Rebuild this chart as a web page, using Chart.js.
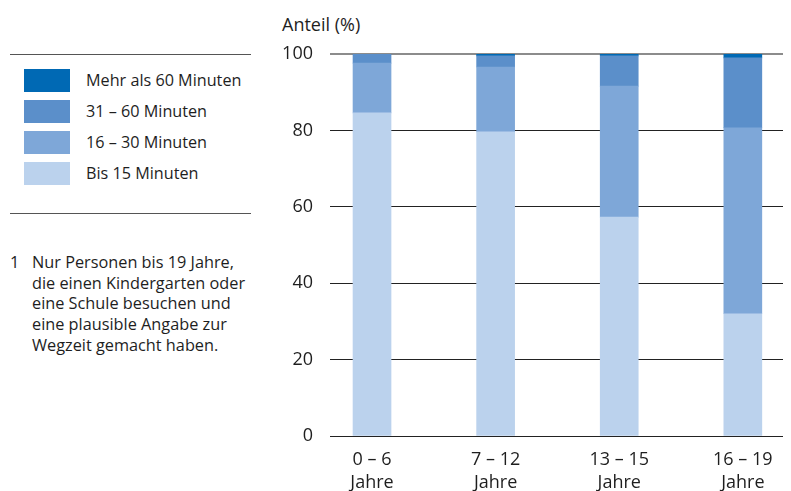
<!DOCTYPE html>
<html lang="de">
<head>
<meta charset="utf-8">
<title>Wegzeit zu Kindergarten / Schule</title>
<script src="https://cdn.jsdelivr.net/npm/chart.js@4"></script>
<style>
  html, body { margin: 0; padding: 0; background: #fff; }
  body { width: 791px; height: 491px; position: relative; overflow: hidden;
         font-family: "Open Sans", "Noto Sans", sans-serif; color: #1e1e1e; }
  .rule { position: absolute; left: 10px; width: 241px; height: 0; border-top: 1px solid #555; }
  #legend { position: absolute; left: 24px; top: 69px; margin: 0; padding: 0; list-style: none; }
  #legend li { position: relative; height: 31px; font-size: 16.2px; line-height: 23px; }
  #legend .sw { position: absolute; left: 0; top: 0; width: 46px; height: 23px; }
  #legend .lbl { position: absolute; left: 62px; top: 0; white-space: nowrap; }
  #note { position: absolute; left: 10px; top: 252px; font-size: 16.3px; line-height: 20.7px; }
  #note .num { position: absolute; left: 0; top: 0; }
  #note .txt { position: absolute; left: 22px; top: 0; white-space: nowrap; }
  #ytitle { position: absolute; left: 282px; top: 12px; font-size: 18px; white-space: nowrap; }
  #wrap { position: absolute; left: 260px; top: 0; width: 531px; height: 491px; }
</style>
</head>
<body>
<div class="rule" style="top:54px"></div>
<ul id="legend"></ul>
<div class="rule" style="top:213px"></div>
<div id="note">
  <span class="num">1</span>
  <span class="txt">Nur Personen bis 19 Jahre,<br>die einen Kindergarten oder<br>eine Schule besuchen und<br>eine plausible Angabe zur<br>Wegzeit gemacht haben.</span>
</div>
<div id="ytitle">Anteil (%)</div>
<div id="wrap"><canvas id="chart" width="531" height="491"></canvas></div>

<script>
/* ── Data ── */
const categories = [['0 – 6', 'Jahre'], ['7 – 12', 'Jahre'], ['13 – 15', 'Jahre'], ['16 – 19', 'Jahre']];
const seriesNames = ['Bis 15 Minuten', '16 – 30 Minuten', '31 – 60 Minuten', 'Mehr als 60 Minuten'];
const bis15    = [84.6, 79.6, 57.3, 32.0];
const min16_30 = [13.0, 17.0, 34.3, 48.7];
const min31_60 = [2.4, 2.9, 7.9, 18.3];
const over60   = [0.0, 0.5, 0.5, 1.0];
const yTicks = [0, 20, 40, 60, 80, 100];
const colors = ['#bbd2ed', '#7ea7d8', '#5b8fca', '#0069b4'];

const seriesValues = [bis15, min16_30, min31_60, over60];

/* ── Legend (top entry = top of stack) ── */
function buildLegend() {
  const ul = document.getElementById('legend');
  for (let i = seriesNames.length - 1; i >= 0; i--) {
    const li = document.createElement('li');
    li.innerHTML = '<span class="sw" style="background:' + colors[i] + '"></span><span class="lbl">' + seriesNames[i] + '</span>';
    ul.appendChild(li);
  }
}

/* ── Chart ── */
function initChart() {
  const ctx = document.getElementById('chart');
  const font = { family: '"Open Sans", "Noto Sans", sans-serif', size: 18 };

  new Chart(ctx, {
    type: 'bar',
    data: {
      datasets: seriesValues.map((vals, i) => ({
        label: seriesNames[i],
        data: vals.map((v, j) => ({ x: j, y: v })),
        backgroundColor: colors[i],
        borderWidth: 0,
        barThickness: 38
      }))
    },
    options: {
      responsive: false,
      animation: false,
      layout: { padding: { top: 54, right: 8, left: 0, bottom: 0 } },
      plugins: { legend: { display: false }, tooltip: { enabled: false } },
      scales: {
        x: {
          type: 'linear',
          stacked: true,
          offset: false,
          min: -0.34,
          max: 3.325,
          afterBuildTicks: s => { s.ticks = categories.map((_, i) => ({ value: i })); },
          afterFit: s => { s.height = 55; },
          grid: { display: false, drawTicks: false },
          border: { display: false },
          ticks: {
            padding: 12,
            color: '#1e1e1e',
            font: { ...font, lineHeight: 1.3 },
            maxRotation: 0,
            autoSkip: false,
            callback: v => categories[v]
          }
        },
        y: {
          stacked: true,
          min: 0,
          max: 100,
          afterBuildTicks: s => { s.ticks = yTicks.map(v => ({ value: v })); },
          afterFit: s => { s.width = 70; },
          grid: {
            drawTicks: false,
            color: c => c.tick && c.tick.value === 100 ? '#8c8c8c' : '#222',
            lineWidth: c => c.tick && c.tick.value === 100 ? 2 : 1
          },
          border: { display: false },
          ticks: { padding: 17, color: '#1e1e1e', font }
        }
      }
    }
  });
}

document.addEventListener('DOMContentLoaded', () => {
  buildLegend();
  initChart();
});
</script>
</body>
</html>
